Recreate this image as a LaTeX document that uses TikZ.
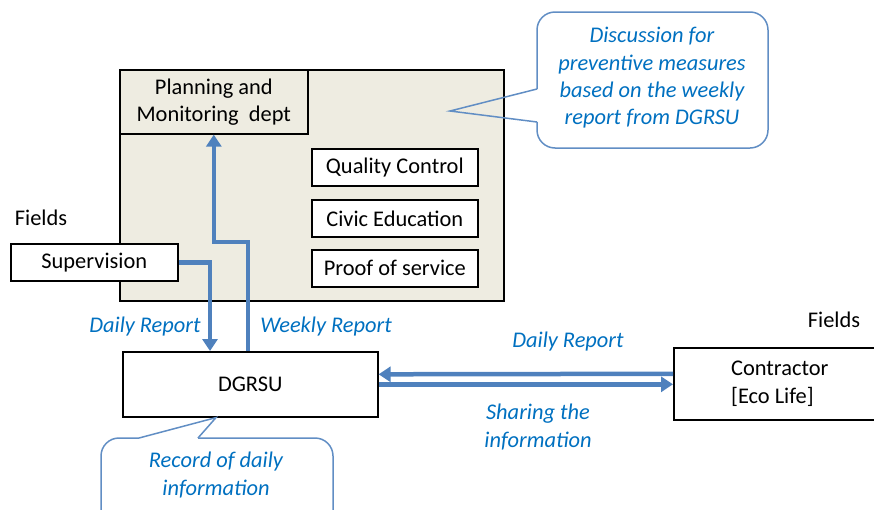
\documentclass[tikz,border=0pt]{standalone}
\usepackage{fontspec}
\setmainfont{Carlito}
\usetikzlibrary{arrows.meta,calc}

% 颜色定义
\definecolor{flowblue}{HTML}{4F81BD}
\definecolor{txtblue}{HTML}{0070C0}
\definecolor{panelbg}{HTML}{EEECE1}

\tikzset{
  unitbox/.style={draw=black, line width=1.6pt, fill=white, inner sep=0pt, anchor=north west, align=center},
  flow/.style={draw=flowblue, line width=4.5pt, -{Triangle[width=15pt,length=12pt]}},
  bluelbl/.style={text=txtblue, font=\fontsize{22.4}{27.3}\selectfont\itshape, align=center},
  calloutline/.style={draw=flowblue!90, line width=1.5pt}
}

\begin{document}
\begin{tikzpicture}[x=1pt, y=-1pt, font=\fontsize{22.4}{27.3}\selectfont]
	
	% 画布范围
	\clip (0,0) rectangle (874,509);
	
	% 部门大框
	\node[unitbox, fill=panelbg, minimum width=384, minimum height=231] (dept) at (119,69) {}; % 外框
	\node[unitbox, fill=panelbg, minimum width=188, minimum height=64] (plan) at (119,69) {Planning and\\Monitoring\ \ dept};
	\node[unitbox, minimum width=166, minimum height=37] (qc) at (311,148) {Quality Control};
	\node[unitbox, minimum width=166, minimum height=37] (ce) at (311,199) {Civic Education};
	\node[unitbox, minimum width=166, minimum height=37] (ps) at (311,249) {Proof of service};
	
	% 现场与各单位
	\node (fieldsL) at (41,218) {Fields};
	\node[unitbox, minimum width=167, minimum height=37] (sup) at (10,243) {Supervision};
	\node[unitbox, minimum width=255, minimum height=65] (dgrsu) at (122,351) {DGRSU};
	\node (fieldsR) at (834,320) {Fields};
	\node[unitbox, minimum width=212, minimum height=72, align=left] (con) at (673,347) {Contractor\\{[Eco Life]}};
	
	% 报告流程箭头
	\draw[flow] (sup.east) -| ($(dgrsu.north west)+(88,0)$); % 日报
	\draw[flow] ($(dgrsu.north west)+(126,0)$) -- ++(0,-109) -| (plan.south); % 周报
	\draw[flow] ($(con.west)+(0,-10)$) -- ($(dgrsu.east)+(0,-10)$); % 承包商日报
	\draw[flow] (dgrsu.east) -- (dgrsu.east -| con.west); % 信息共享
	
	% 箭头标注
	\node[bluelbl] (dailyL) at (145,327) {Daily Report};
	\node[bluelbl] (weekly) at (326,327) {Weekly Report};
	\node[bluelbl] (dailyR) at (568,342) {Daily Report};
	\node[bluelbl] (share) at (538,427) {Sharing the\\information};
	
	% 上方说明框
	\coordinate (tipA) at (450,111);
	\draw[calloutline, rounded corners=18pt] (537,89) -- (537,12) -- (768,12) -- (768,148) -- (537,148) -- (537,122);
	\draw[calloutline] (537,122) -- (tipA) -- (537,89);
	\node[bluelbl] (note) at (652,78) {Discussion for\\preventive measures\\based on the weekly\\report from DGRSU};
	
	% 下方说明框
	\coordinate (tipB) at ($(dgrsu.south west)+(94,0)$);
	\draw[calloutline, rounded corners=18pt] (198,438) -- (333,438) -- (333,535) -- (101,535) -- (101,438) -- (139,438);
	\draw[calloutline] (139,438) -- (tipB) -- (198,438);
	\node[bluelbl] (record) at (216,475) {Record of daily\\information};
	
\end{tikzpicture}
\end{document}
